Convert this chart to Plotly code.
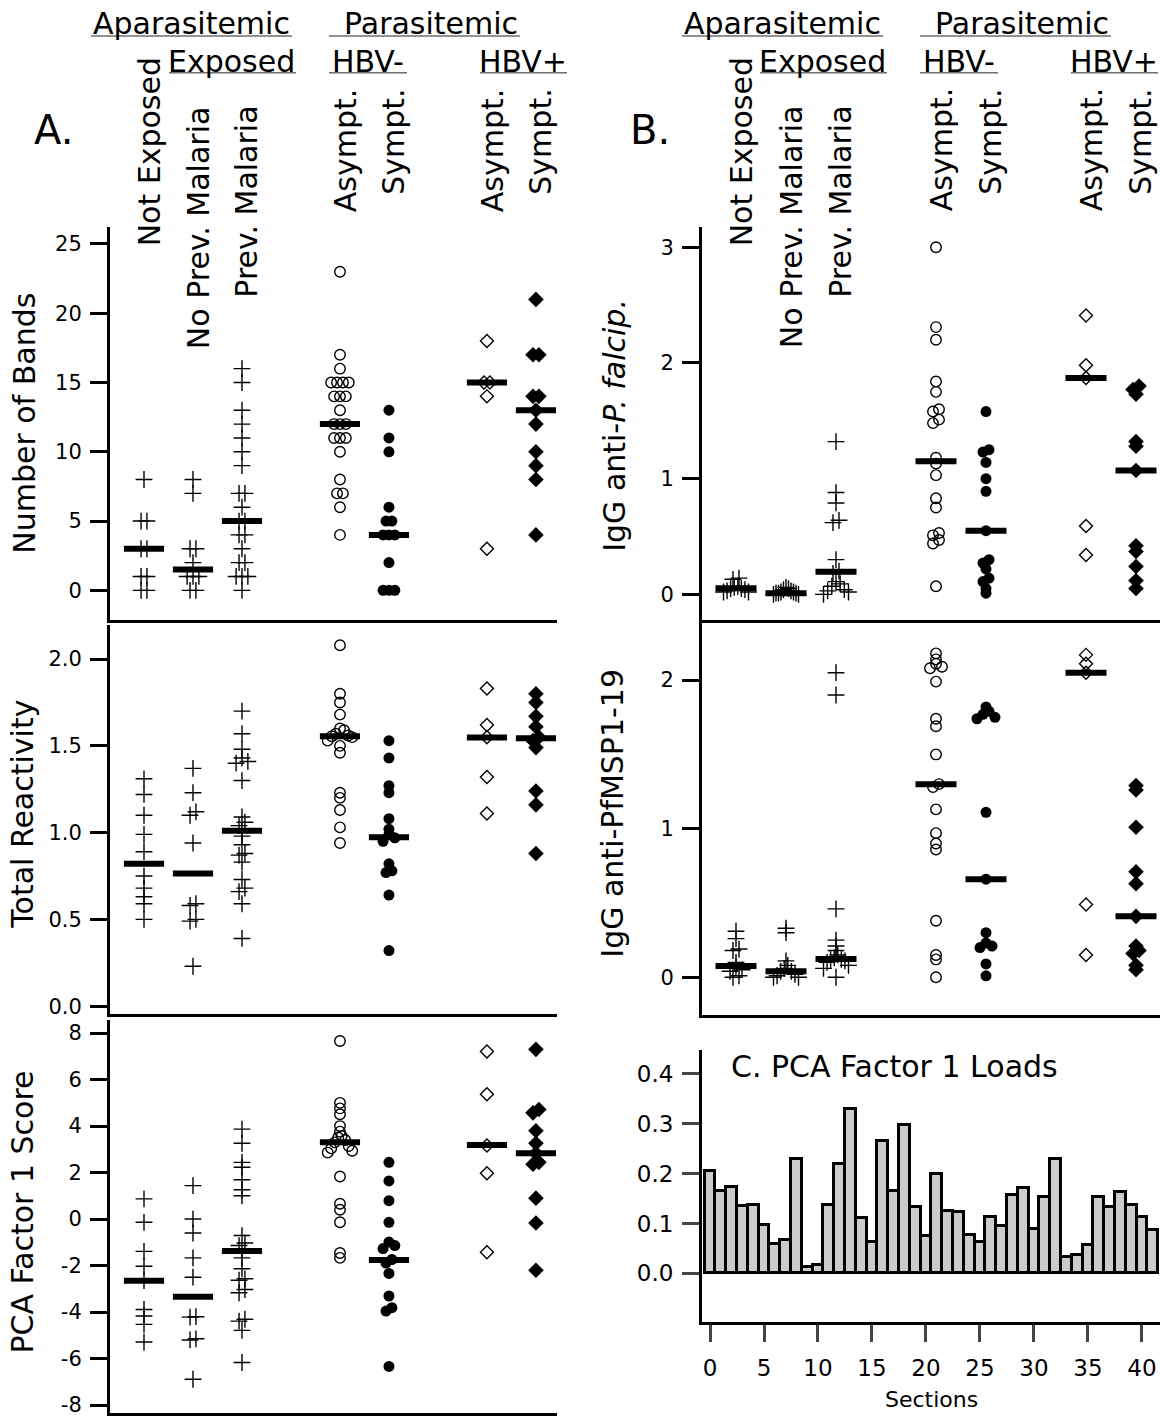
import plotly.graph_objects as go

W, H = 1160, 1420
FONT = "DejaVu Sans"

# ---------------- data ----------------
groups = ["Not Exposed", "No Prev. Malaria", "Prev. Malaria", "Asympt.", "Sympt.", "Asympt.", "Sympt."]
group_pos = [0, 1, 2, 4, 5, 7, 8]

bands = [
    [8, 5, 5, 3, 3, 1, 1, 0, 0],
    [8, 7, 3, 3, 2, 1, 1, 1, 0, 0],
    [16, 15, 13, 12, 11, 10, 9, 7, 7, 6, 5, 5, 4, 4, 3, 2, 2, 1, 1, 1, 0],
    [23, 17, 16, 15, 15, 15, 15, 14, 14, 14, 13, 12, 12, 12, 11, 11, 11, 10, 8, 7, 7, 6, 4],
    [13, 11, 10, 6, 5, 5, 4, 4, 4, 2, 0, 0, 0],
    [18, 15, 15, 14, 3],
    [21, 17, 17, 14, 14, 13, 12, 10, 9, 8, 4],
]
bands_median = [3, 1.5, 5, 12, 4, 15, 13]

reactivity = [
    [1.31, 1.22, 1.10, 0.99, 0.89, 0.75, 0.68, 0.63, 0.59, 0.50],
    [1.37, 1.23, 1.12, 1.10, 0.94, 0.59, 0.58, 0.50, 0.49, 0.23],
    [1.70, 1.57, 1.48, 1.43, 1.41, 1.40, 1.30, 1.09, 1.06, 1.04, 1.01, 0.98, 0.93, 0.88, 0.87,
     0.83, 0.73, 0.68, 0.66, 0.59, 0.39],
    [2.08, 1.80, 1.75, 1.68, 1.60, 1.59, 1.57, 1.56, 1.555, 1.55, 1.53, 1.50, 1.46, 1.23, 1.20,
     1.13, 1.03, 0.94],
    [1.53, 1.43, 1.27, 1.23, 1.08, 1.02, 0.99, 0.97, 0.95, 0.82, 0.78, 0.77, 0.64, 0.32],
    [1.83, 1.62, 1.55, 1.32, 1.11],
    [1.80, 1.75, 1.67, 1.61, 1.55, 1.53, 1.49, 1.24, 1.16, 0.88],
]
reactivity_median = [0.82, 0.765, 1.01, 1.555, 0.973, 1.548, 1.544]

pca_score = [
    [0.87, -0.14, -1.39, -2.03, -2.65, -3.89, -4.17, -4.53, -5.29],
    [1.44, 0.0, -0.6, -1.67, -2.5, -4.2, -4.22, -5.15, -5.2, -6.89],
    [3.87, 3.26, 2.44, 2.23, 1.69, 1.26, 1.0, -0.71, -1.03, -1.14, -1.37, -1.67, -2.14, -2.57,
     -2.63, -3.03, -3.17, -4.31, -4.39, -4.79, -6.17],
    [7.66, 5.0, 4.76, 4.51, 4.0, 3.76, 3.57, 3.51, 3.4, 3.3, 3.14, 3.04, 2.94, 2.86, 1.83, 0.66,
     0.4, -0.14, -1.46, -1.67],
    [2.44, 1.64, 0.79, -0.14, -0.99, -1.14, -1.27, -1.74, -1.89, -2.34, -3.31, -3.81, -3.96, -6.34],
    [7.21, 5.37, 3.16, 1.97, -1.43],
    [7.3, 4.71, 4.57, 3.8, 3.26, 2.83, 2.44, 2.36, 0.9, -0.17, -2.2],
]
pca_score_median = [-2.65, -3.34, -1.37, 3.3, -1.76, 3.19, 2.83]

igg_pf = [
    [0.14, 0.13, 0.07, 0.06, 0.05, 0.05, 0.04, 0.03, 0.02, 0.02],
    [0.06, 0.05, 0.04, 0.03, 0.02, 0.02, 0.01, 0.01, 0.01, 0.0, 0.0],
    [1.32, 0.88, 0.79, 0.64, 0.62, 0.30, 0.20, 0.18, 0.11, 0.09, 0.07, 0.04, 0.03, 0.02, 0.0],
    [3.0, 2.31, 2.2, 1.84, 1.75, 1.6, 1.58, 1.51, 1.48, 1.18, 1.13, 1.03, 0.83, 0.75, 0.53,
     0.51, 0.47, 0.44, 0.07],
    [1.58, 1.25, 1.23, 1.14, 1.0, 0.89, 0.55, 0.30, 0.27, 0.22, 0.14, 0.11, 0.05, 0.01],
    [2.41, 1.98, 1.87, 0.59, 0.34],
    [1.80, 1.77, 1.73, 1.32, 1.28, 1.07, 0.42, 0.37, 0.24, 0.12, 0.05],
]
igg_pf_median = [0.052, 0.01, 0.195, 1.15, 0.55, 1.87, 1.07]

igg_msp = [
    [0.31, 0.26, 0.19, 0.18, 0.10, 0.07, 0.05, 0.04, 0.01, 0.0],
    [0.33, 0.30, 0.11, 0.08, 0.06, 0.04, 0.04, 0.02, 0.01, 0.0, 0.0],
    [2.05, 1.90, 0.46, 0.25, 0.21, 0.18, 0.15, 0.13, 0.12, 0.12, 0.11, 0.10, 0.08, 0.06, 0.0],
    [2.18, 2.14, 2.11, 2.09, 2.08, 1.99, 1.74, 1.69, 1.50, 1.30, 1.28, 1.13, 0.97, 0.90, 0.86,
     0.38, 0.15, 0.12, 0.0],
    [1.82, 1.79, 1.77, 1.75, 1.74, 1.11, 0.66, 0.30, 0.23, 0.21, 0.20, 0.09, 0.01],
    [2.17, 2.11, 2.05, 0.49, 0.15],
    [1.29, 1.26, 1.01, 0.71, 0.63, 0.41, 0.21, 0.18, 0.16, 0.08, 0.05],
]
igg_msp_median = [0.075, 0.04, 0.123, 1.30, 0.66, 2.05, 0.41]

sections = list(range(42))
pca_loads = [0.206, 0.165, 0.174, 0.135, 0.137, 0.098, 0.059, 0.066, 0.229, 0.012, 0.017,
             0.137, 0.219, 0.330, 0.112, 0.063, 0.266, 0.166, 0.297, 0.133, 0.075, 0.199,
             0.125, 0.124, 0.076, 0.062, 0.114, 0.096, 0.157, 0.172, 0.090, 0.153, 0.229,
             0.033, 0.036, 0.057, 0.153, 0.134, 0.164, 0.138, 0.113, 0.087]

# ---------------- helpers ----------------
def px(x):
    return x / W


def py(y):
    return 1 - y / H


cross = dict(symbol="cross-thin-open", size=12, color="black", line=dict(color="black", width=1.4))
styles = [
    cross, cross, cross,
    dict(symbol="circle-open", size=10.5, color="black", line=dict(color="black", width=1.4)),
    dict(symbol="circle", size=11, color="black", line=dict(width=0)),
    dict(symbol="diamond-open", size=10, color="black", line=dict(color="black", width=1.4)),
    dict(symbol="diamond", size=12, color="black", line=dict(width=0)),
]


def jitter(vals, thresh, step=0.12, maxspread=0.5):
    """Spread near-coincident points sideways (zig-zag), like the original dot plot."""
    order = sorted(range(len(vals)), key=lambda i: vals[i])
    offs = [0.0] * len(vals)
    clusters, cur = [], [order[0]]
    for i in order[1:]:
        if vals[i] - vals[cur[-1]] < thresh:
            cur.append(i)
        else:
            clusters.append(cur)
            cur = [i]
    clusters.append(cur)
    for c in clusters:
        n = len(c)
        if n == 1:
            continue
        s = min(step, maxspread / (n - 1))
        slots = [(j - (n - 1) / 2) * s for j in range(n)]
        seq = []
        lo, hi = 0, n - 1
        while lo <= hi:
            seq.append(lo)
            if hi != lo:
                seq.append(hi)
            lo += 1
            hi -= 1
        for k, i in enumerate(c):
            offs[i] = slots[seq[k]]
    return offs


fig = go.Figure()

panels = [
    (bands, bands_median, "", 13.86),
    (reactivity, reactivity_median, "2", 174.0),
    (pca_score, pca_score_median, "3", 23.3),
    (igg_pf, igg_pf_median, "4", 116.0),
    (igg_msp, igg_msp_median, "5", 149.0),
]

for data, med, ax, ppu in panels:
    xa, ya = "x" + ax, "y" + ax
    for g, vals in enumerate(data):
        offs = jitter(vals, 4.0 / ppu)
        fig.add_trace(go.Scatter(
            x=[group_pos[g] + o for o in offs], y=vals, mode="markers",
            marker=styles[g], xaxis=xa, yaxis=ya, showlegend=False, hoverinfo="y"))
    mx, my = [], []
    for g, m in enumerate(med):
        mx += [group_pos[g] - 0.41, group_pos[g] + 0.41, None]
        my += [m, m, None]
    fig.add_trace(go.Scatter(x=mx, y=my, mode="lines", line=dict(color="black", width=6),
                             xaxis=xa, yaxis=ya, showlegend=False, hoverinfo="skip"))

fig.add_trace(go.Bar(x=sections, y=pca_loads, width=1.0, xaxis="x6", yaxis="y6",
                     marker=dict(color="#cbcbcb", line=dict(color="black", width=3)),
                     showlegend=False))

# ---------------- axes ----------------
tickfont = dict(family=FONT, size=21, color="black")


def xcat(domain, anchor, rng):
    return dict(domain=domain, anchor=anchor, range=rng, showline=True, linewidth=3,
                linecolor="black", showticklabels=False, ticks="", showgrid=False,
                zeroline=False, fixedrange=True)


def yax(domain, anchor, rng, tickvals, fmt=None, ticktext=None):
    d = dict(domain=domain, anchor=anchor, range=rng, showline=True, linewidth=3,
             linecolor="black", ticks="outside", ticklen=17, tickwidth=2.5, tickcolor="black",
             tickvals=tickvals, tickfont=tickfont, showgrid=False, zeroline=False,
             ticklabelstandoff=4)
    if fmt:
        d["tickformat"] = fmt
    if ticktext:
        d["ticktext"] = ticktext
    return d


A_dom = [px(110), px(557)]
B_dom = [px(702), 1.0]
A_rng = [-0.694, 8.43]
B_rng = [-0.68, 8.48]

pca_ticks = [-8, -6, -4, -2, 0, 2, 4, 6, 8]

fig.update_layout(
    width=W, height=H, margin=dict(l=0, r=0, t=0, b=0),
    paper_bgcolor="white", plot_bgcolor="white",
    font=dict(family=FONT, color="black"),
    bargap=0,
    xaxis=xcat(A_dom, "y", A_rng),
    yaxis=yax([py(622), py(228)], "x", [-2.16, 26.2], [0, 5, 10, 15, 20, 25]),
    xaxis2=xcat(A_dom, "y2", A_rng),
    yaxis2=yax([py(1017), py(627)], "x2", [-0.046, 2.195], [0, 0.5, 1.0, 1.5, 2.0], ".1f"),
    xaxis3=xcat(A_dom, "y3", A_rng),
    yaxis3=yax([py(1417), py(1023)], "x3", [-8.343, 8.558], pca_ticks,
               ticktext=[str(t) for t in pca_ticks]),
    xaxis4=xcat(B_dom, "y4", B_rng),
    yaxis4=yax([py(622), py(228)], "x4", [-0.224, 3.172], [0, 1, 2, 3]),
    xaxis5=xcat(B_dom, "y5", B_rng),
    yaxis5=yax([py(1018), py(625)], "x5", [-0.255, 2.383], [0, 1, 2]),
    xaxis6=dict(domain=B_dom, anchor="y6", range=[-0.741, 41.67], showline=True, linewidth=3,
                linecolor="black", ticks="outside", ticklen=17, tickwidth=2.5,
                tickvals=[0, 5, 10, 15, 20, 25, 30, 35, 40],
                tickfont=dict(family=FONT, size=23, color="black"),
                showgrid=False, zeroline=False, ticklabelstandoff=6),
    yaxis6=dict(domain=[py(1326), py(1053)], anchor="x6", range=[-0.098, 0.448],
                showline=True, linewidth=3, linecolor="black", ticks="outside", ticklen=17,
                tickwidth=2.5, tickvals=[0, 0.1, 0.2, 0.3, 0.4], tickformat=".1f",
                tickfont=dict(family=FONT, size=23, color="black"),
                showgrid=False, zeroline=False, ticklabelstandoff=4),
)

# ---------------- annotations & header underlines ----------------
ann = []
shapes = []


def text(x, y, t, size=30, angle=0, xanchor="center", yanchor="middle", xref="paper", xshift=0):
    ann.append(dict(x=x, y=y, xref=xref, yref="paper", text=t, showarrow=False,
                    font=dict(family=FONT, size=size, color="black"), textangle=angle,
                    xanchor=xanchor, yanchor=yanchor, xshift=xshift, borderpad=0))


def underline(x0, x1, y):
    shapes.append(dict(type="line", xref="paper", yref="paper", x0=px(x0), x1=px(x1),
                       y0=py(y), y1=py(y), line=dict(color="#6e6e6e", width=1.5)))


label_tops = [57, 105, 105, 88, 88, 88, 88]
for shift, xref in ((0, "x"), (591, "x4")):
    text(px(191 + shift), py(24), "Aparasitemic")
    text(px(431 + shift), py(24), "Parasitemic")
    text(px(231 + shift), py(62), "Exposed")
    text(px(368 + shift), py(62), "HBV-")
    text(px(523 + shift), py(62), "HBV+")
    underline(91 + shift, 292 + shift, 36)
    underline(329 + shift, 520 + shift, 36)
    underline(169 + shift, 296 + shift, 73)
    underline(329 + shift, 407 + shift, 73)
    underline(480 + shift, min(567 + shift, 1159), 73)
    for g, lab in enumerate(groups):
        text(group_pos[g], py(label_tops[g]), lab, angle=-90, yanchor="top", xref=xref, xshift=5)

text(px(53), py(130), "A.", size=40)
text(px(650), py(130), "B.", size=40)

text(px(25), py(425), "Number of Bands", angle=-90)
text(px(23), py(817), "Total Reactivity", angle=-90)
text(px(23), py(1216), "PCA Factor 1 Score", angle=-90)
text(px(615), py(427), "IgG anti-<i>P. falcip.</i>", angle=-90)
text(px(613), py(816), "IgG anti-PfMSP1-19", angle=-90)
text(px(730), py(1070), "C. PCA Factor 1 Loads", xanchor="left")
text(px(931), py(1403), "Sections", size=22)

fig.update_layout(annotations=ann, shapes=shapes)

fig.write_html("out.html")
